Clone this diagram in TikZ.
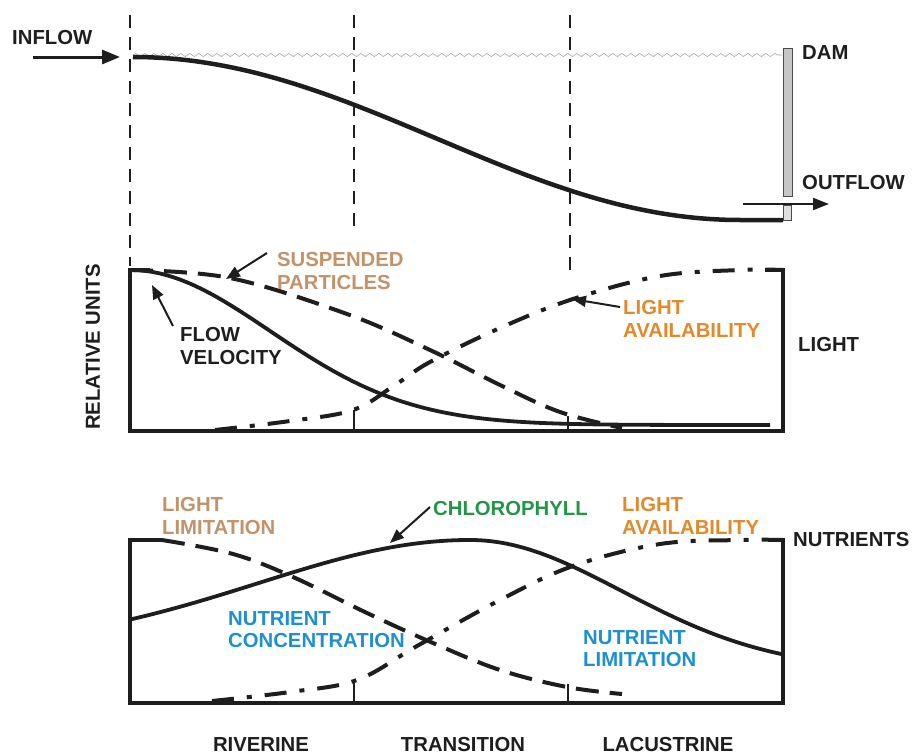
\documentclass[tikz,border=0pt]{standalone}
\usepackage{fontspec}
\setmainfont{Liberation Sans}
\usetikzlibrary{arrows.meta,decorations.pathmorphing}
\definecolor{tan}{RGB}{196,146,104}
\definecolor{orng}{RGB}{226,138,42}
\definecolor{grn}{RGB}{34,150,70}
\definecolor{blu}{RGB}{30,144,208}
\definecolor{ink}{RGB}{30,30,30}
\tikzset{
  lbl/.style={anchor=north west,inner sep=0pt,align=left,font=\fontsize{20.3}{22.8}\selectfont\bfseries,text=ink},
  zone/.style={anchor=north,inner sep=0pt,font=\fontsize{20.3}{22.8}\selectfont\bfseries,text=ink},
  divider/.style={draw=ink,line width=1.8pt,dash pattern=on 13pt off 9pt},
  tick/.style={draw=ink,line width=1.5pt},
  frame/.style={draw=ink,line width=4pt,line join=miter},
  solidc/.style={draw=ink,line width=3.8pt},
  dashc/.style={draw=ink,line width=4pt,dash pattern=on 23pt off 11pt},
  dotdashc/.style={draw=ink,line width=4pt,dash pattern=on 22pt off 13pt on 5pt off 13pt},
  pointer/.style={draw=ink,line width=2pt,-{Triangle[length=14pt,width=11pt]}},
  bigarrow/.style={draw=ink,line width=3pt,-{Triangle[length=18pt,width=14pt]}}
}
\begin{document}
\begin{tikzpicture}[x=1pt,y=-1pt]
\useasboundingbox (0,0) rectangle (916,755);

% ---------- top: reservoir profile ----------
\coordinate (d1t) at (130,15); \coordinate (d1b) at (130,266);
\coordinate (d2t) at (354,15); \coordinate (d2b) at (354,232);
\coordinate (d3t) at (570,15); \coordinate (d3b) at (570,270);
\draw[divider] (d1t) -- (d1b);
\draw[divider] (d2t) -- (d2b);
\draw[divider] (d3t) -- (d3b);

% water surface
\coordinate (ws1) at (133,55); \coordinate (ws2) at (782,55);
\draw[gray!70,line width=0.6pt,decorate,decoration={snake,segment length=9pt,amplitude=1.6pt}] (ws1) -- (ws2);

% bottom profile
\draw[solidc,line width=4.5pt] plot[domain=133:740,samples=80] (\x,{57+81.5*(1-cos(0.29654*(\x-133)))}) -- (783,220);

% dam
\node[draw=ink!80,fill=gray!45,line width=0.8pt,minimum width=9pt,minimum height=148pt,inner sep=0pt,anchor=north west] (dam) at (783,48) {};
\node[draw=ink!80,fill=gray!25,line width=0.8pt,minimum width=8pt,minimum height=15pt,inner sep=0pt,anchor=north west] (gate) at (783,205) {};

% inflow / outflow
\node[lbl] (inflow) at (12,30) {INFLOW};
\coordinate (in1) at (33,57); \coordinate (in2) at (120,57);
\draw[bigarrow] (in1) -- (in2);
\node[lbl] (damlbl) at (802,45) {DAM};
\node[lbl] (outflow) at (802,175) {OUTFLOW};
\coordinate (out1) at (743,204); \coordinate (out2) at (829,204);
\draw[draw=ink,line width=2pt,-{Triangle[length=16pt,width=12pt]}] (out1) -- (out2);

% ---------- middle panel ----------
\draw[frame] (150,270) -- (130,270) -- (130,431) -- (783,431) -- (783,270) -- (765,270);
\draw[tick] (354,410) -- (354,430);
\draw[tick] (568,416) -- (568,430);

% flow velocity
\draw[solidc] plot[domain=130:770,samples=90] (\x,{270+155*(1-exp(-((\x-130)/198)^2))});
% suspended particles
\draw[dashc] plot[smooth,tension=0.6] coordinates {(130,270) (230,278) (347,314) (430,350) (500,385) (560,412) (622,428)};
% light availability
\draw[dotdashc] plot[smooth,tension=0.6] coordinates {(215,430) (290,421) (353,410) (395,385) (430,362) (500,328) (573,299) (660,276) (740,270) (783,270)};

\node[lbl,text=tan] (susp) at (277,252) {SUSPENDED\\PARTICLES};
\coordinate (suspA) at (267,253); \coordinate (suspB) at (226,279);
\draw[pointer] (suspA) -- (suspB);
\node[lbl] (flow) at (180,327) {FLOW\\VELOCITY};
\coordinate (flowA) at (173,326); \coordinate (flowB) at (152,285);
\draw[pointer] (flowA) -- (flowB);
\node[lbl,text=orng] (lav1) at (623,300) {LIGHT\\AVAILABILITY};
\coordinate (lavA) at (620,307); \coordinate (lavB) at (572,299);
\draw[pointer] (lavA) -- (lavB);
\node[lbl] (light) at (798,337) {LIGHT};
\node[lbl,rotate=90,anchor=center] (relu) at (93,347) {RELATIVE UNITS};

% ---------- bottom panel ----------
\draw[frame] (162,540) -- (130,540) -- (130,703) -- (783,703) -- (783,540) -- (768,540);
\draw[tick] (354,680) -- (354,702);
\draw[tick] (568,684) -- (568,702);

% chlorophyll
\draw[solidc] plot[domain=130:470,samples=60] (\x,{540+110*(1-exp(-((\x-470)/300)^2))})
  -- plot[domain=470:783,samples=60] (\x,{540+130*(1-exp(-((\x-470)/215)^2))});
% light limitation
\draw[dashc] plot[smooth,tension=0.6] coordinates {(162,540) (233,554) (293,577) (367,613) (433,643) (500,670) (567,687) (622,694)};
% light availability
\draw[dotdashc] plot[smooth,tension=0.6] coordinates {(212,701) (290,692) (357,680) (417,646) (500,600) (573,566) (660,544) (740,540) (783,540)};

\node[lbl,text=tan] (llim) at (162,497) {LIGHT\\LIMITATION};
\node[lbl,text=grn] (chl) at (433,501) {CHLOROPHYLL};
\coordinate (chlA) at (430,507); \coordinate (chlB) at (390,543);
\draw[pointer] (chlA) -- (chlB);
\node[lbl,text=orng] (lav2) at (622,497) {LIGHT\\AVAILABILITY};
\node[lbl] (nut) at (793,532) {NUTRIENTS};
\node[lbl,text=blu] (nconc) at (228,611) {NUTRIENT\\CONCENTRATION};
\node[lbl,text=blu] (nlim) at (583,630) {NUTRIENT\\LIMITATION};

% zones
\node[zone] (riv) at (261,737) {RIVERINE};
\node[zone] (tra) at (463,737) {TRANSITION};
\node[zone] (lac) at (668,737) {LACUSTRINE};
\end{tikzpicture}
\end{document}
